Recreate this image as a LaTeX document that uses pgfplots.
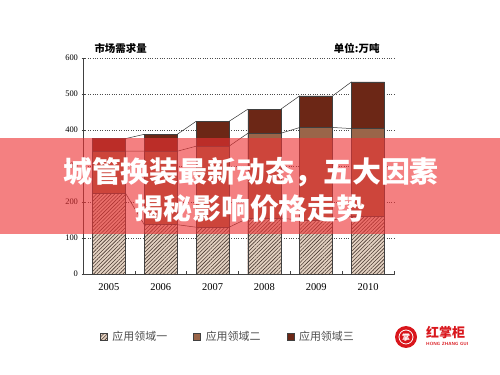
\documentclass[border=0pt]{standalone}
\usepackage{fontspec}
\setmainfont{Liberation Serif}
\newfontfamily\cjk{Noto Sans CJK SC}
\usepackage{pgfplots}
\pgfplotsset{compat=1.18}
\usetikzlibrary{patterns.meta}
\definecolor{segA}{HTML}{E4D2C2}
\definecolor{hatch}{HTML}{4A3A32}
\definecolor{segB}{HTML}{9A6549}
\definecolor{segC}{HTML}{6C2716}
\definecolor{band}{RGB}{237,50,52}
\definecolor{logored}{HTML}{D9161C}
\pgfplotsset{sq legend/.style={legend image code/.code={\draw[##1] (0bp,-3.5bp) rectangle (7bp,3.5bp);}}}
\begin{document}
\begin{tikzpicture}
\useasboundingbox (0,0) rectangle (500bp,375bp);
\begin{axis}[
  at={(83bp,101bp)}, anchor=south west,
  scale only axis, width=311bp, height=216bp,
  xmin=-0.5, xmax=5.5, ymin=0, ymax=600,
  axis x line*=bottom, axis y line*=left,
  axis line style={black!75, line width=0.7bp},
  xtick={-0.5,0.5,...,5.5},
  xticklabels={2005,2006,2007,2008,2009,2010},
  x tick label as interval,
  xtick align=inside,
  ytick={0,100,...,600},
  ytick align=center,
  major tick length=3bp,
  tick style={black!75, line width=0.6bp},
  ymajorgrids, grid style={black!70, dotted, line width=0.6bp},
  /pgf/number format/assume math mode=true,
  xticklabel style={font=\fontsize{10.5}{12}\selectfont, yshift=-6bp},
  yticklabel style={font=\fontsize{8.5}{10}\selectfont},
  legend columns=3, reverse legend,
  legend style={at={(axis description cs:0.466,-0.292)}, anchor=center, draw=none, fill=none,
    font=\cjk\fontsize{11}{13}\selectfont, text=black!70,
    /tikz/every odd column/.append style={column sep=3bp},
    /tikz/every even column/.append style={column sep=24bp}},
]
\addplot[ybar, bar width=33bp, bar shift=0pt, fill=segC, draw=black!75, line width=0.5bp, sq legend]
  coordinates {(0,376) (1,388) (2,424) (3,458) (4,495) (5,534)};
\addlegendentry{应用领域三}
\addplot[ybar, bar width=33bp, bar shift=0pt, fill=segB, draw=black!75, line width=0.5bp, sq legend]
  coordinates {(0,341) (1,341) (2,355) (3,391) (4,407) (5,404)};
\addlegendentry{应用领域二}
\addplot[ybar, bar width=33bp, bar shift=0pt, fill=segA, draw=black!75, line width=0.5bp,
  postaction={pattern={Lines[angle=45,distance=2.6bp,line width=0.6bp]}, pattern color=hatch}, sq legend]
  coordinates {(0,225) (1,137) (2,130) (3,155) (4,150) (5,160)};
\addlegendentry{应用领域一}
\addplot[forget plot, black!80, line width=0.5bp, unbounded coords=jump, mark=none]
  coordinates {(0.318,376) (0.682,388) (1,nan) (1.318,388) (1.682,424) (2,nan) (2.318,424) (2.682,458) (3,nan) (3.318,458) (3.682,495) (4,nan) (4.318,495) (4.682,534)};
\addplot[forget plot, black!80, line width=0.5bp, unbounded coords=jump, mark=none]
  coordinates {(0.318,341) (0.682,341) (1,nan) (1.318,341) (1.682,355) (2,nan) (2.318,355) (2.682,391) (3,nan) (3.318,391) (3.682,407) (4,nan) (4.318,407) (4.682,404)};
\addplot[forget plot, black!80, line width=0.5bp, unbounded coords=jump, mark=none]
  coordinates {(0.318,225) (0.682,137) (1,nan) (1.318,137) (1.682,130) (2,nan) (2.318,130) (2.682,155) (3,nan) (3.318,155) (3.682,150) (4,nan) (4.318,150) (4.682,160)};
\end{axis}
% axis titles
\node[anchor=west, font=\cjk\bfseries\fontsize{10.5}{12}\selectfont] at (91bp,327bp) {市场需求量};
\node[anchor=east, font=\cjk\bfseries\fontsize{10.5}{12}\selectfont] at (383bp,327bp) {单位:万吨};
% overlay band
\fill[band, opacity=0.62] (0,141bp) rectangle (500bp,237bp);
\node[text=white, font=\cjk\bfseries\fontsize{29}{32}\selectfont] at (251bp,203bp) {城管换装最新动态，五大因素};
\node[text=white, font=\cjk\bfseries\fontsize{29}{32}\selectfont] at (250bp,166bp) {揭秘影响价格走势};
% logo
\fill[logored] (406bp,38bp) circle (11bp);
\draw[white, line width=0.8bp] (406bp,38bp) circle (7bp);
\node[text=white, font=\cjk\bfseries\fontsize{8}{8}\selectfont] at (406bp,38bp) {掌};
\node[anchor=west, text=logored, font=\cjk\bfseries\fontsize{13}{14}\selectfont, inner sep=0pt] at (426bp,42bp) {红掌柜};
\node[anchor=west, text=logored, font=\sffamily\bfseries\fontsize{4.5}{5}\selectfont, inner sep=0pt] at (426bp,31bp) {HONG ZHANG GUI};
\end{tikzpicture}
\end{document}
